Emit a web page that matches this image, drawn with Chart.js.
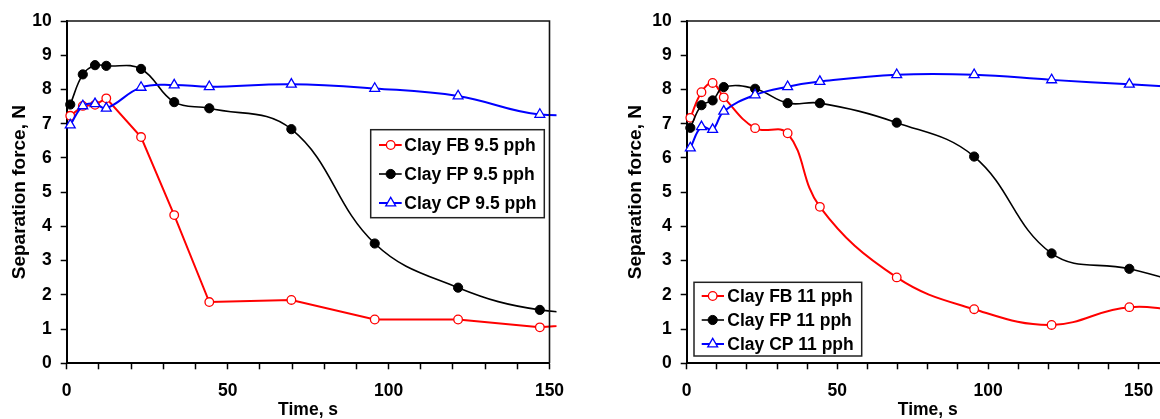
<!DOCTYPE html>
<html><head><meta charset="utf-8">
<script src="https://cdn.jsdelivr.net/npm/chart.js@4.4.0/dist/chart.umd.min.js"></script>
<style>
html,body{margin:0;padding:0;background:#fff;overflow:hidden;width:1160px;height:419px;position:relative;}
#w1{position:absolute;left:0;top:0;width:580px;height:419px;}
#w2{position:absolute;left:620px;top:0;width:580px;height:419px;}
</style></head><body>
<div id="w1"><canvas id="c1"></canvas></div>
<div id="w2"><canvas id="c2"></canvas></div>
<script>
// ---- data ----
const timesA = [1.1, 5, 8.8, 12.3, 23.1, 33.4, 44.3, 69.8, 95.7, 121.6, 147, 172];
const fb95 = [7.23, 7.52, 7.55, 7.74, 6.61, 4.33, 1.79, 1.85, 1.28, 1.28, 1.05, 1.25];
const fp95 = [7.56, 8.44, 8.71, 8.69, 8.60, 7.63, 7.45, 6.84, 3.50, 2.21, 1.56, 1.50];
const cp95 = [6.96, 7.52, 7.58, 7.45, 8.06, 8.13, 8.08, 8.15, 8.03, 7.81, 7.27, 7.35];

const timesB = [1.2, 4.9, 8.6, 12.3, 22.7, 33.5, 44.2, 69.7, 95.4, 121.1, 146.9, 172];
const fb11 = [7.17, 7.92, 8.19, 7.77, 6.87, 6.72, 4.57, 2.51, 1.58, 1.12, 1.64, 1.40];
const fp11 = [6.88, 7.54, 7.68, 8.07, 8.02, 7.60, 7.60, 7.03, 6.04, 3.21, 2.76, 2.15];
const cp11 = [6.29, 6.91, 6.83, 7.36, 7.84, 8.08, 8.23, 8.43, 8.43, 8.28, 8.15, 8.03];

const labelsA = ['Clay FB 9.5 pph', 'Clay FP 9.5 pph', 'Clay CP 9.5 pph'];
const labelsB = ['Clay FB 11 pph', 'Clay FP 11 pph', 'Clay CP 11 pph'];
const xLabelTicks = [0, 50, 100, 150];
const yTitle = 'Separation force, N';
const xTitle = 'Time, s';

// ---- styling ----
const FONT = 'Arial, "Liberation Sans", sans-serif';
const tickFont = {family: FONT, size: 17.5, weight: 'bold'};
const xTitleFont = {family: FONT, size: 17.5, weight: 'bold', lineHeight: 1.0};
const yTitleFont = {family: FONT, size: 19, weight: 'bold', lineHeight: 1.0};

function pts(xs, ys) { return xs.map((x, i) => ({x: x, y: ys[i]})); }

function makeDatasets(xs, fb, fp, cp, labels, fbTension, clip) {
  return [
    {label: labels[0], data: pts(xs, fb), borderColor: '#ff0000', borderWidth: 2,
     pointStyle: 'circle', pointRadius: 4.3, pointBorderWidth: 1.3,
     pointBackgroundColor: '#ffffff', pointBorderColor: '#ff0000', tension: fbTension, order: 3, clip: clip},
    {label: labels[1], data: pts(xs, fp), borderColor: '#000000', borderWidth: 1.6,
     pointStyle: 'circle', pointRadius: 4.6, pointBorderWidth: 1,
     pointBackgroundColor: '#000000', pointBorderColor: '#000000', tension: 0.4, order: 2, clip: clip},
    {label: labels[2], data: pts(xs, cp), borderColor: '#0000ff', borderWidth: 2,
     pointStyle: 'triangle', pointRadius: 5.7, pointBorderWidth: 1.3,
     pointBackgroundColor: '#ffffff', pointBorderColor: '#0000ff', tension: 0.4, order: 1, clip: clip}
  ];
}

const framePlugin = {
  id: 'frameLegend',
  afterDatasetsDraw(chart, args, o) {
    const ctx = chart.ctx, a = chart.chartArea;
    ctx.save();
    ctx.strokeStyle = '#111'; ctx.lineWidth = 1.6;
    ctx.beginPath();
    ctx.moveTo(a.left, a.top); ctx.lineTo(a.right, a.top); ctx.lineTo(a.right, a.bottom);
    ctx.stroke();
    // legend
    const L = o.box;
    ctx.fillStyle = '#fff';
    ctx.fillRect(L.x, L.y, L.w, L.h);
    ctx.strokeStyle = '#222'; ctx.lineWidth = 1.5;
    ctx.strokeRect(L.x, L.y, L.w, L.h);
    ctx.font = 'bold 17.5px ' + FONT;
    ctx.textBaseline = 'middle'; ctx.textAlign = 'left';
    chart.data.datasets.forEach((ds, i) => {
      const y = o.rows[i];
      ctx.strokeStyle = ds.borderColor; ctx.lineWidth = ds.borderWidth;
      ctx.beginPath(); ctx.moveTo(o.sym[0], y); ctx.lineTo(o.sym[2], y); ctx.stroke();
      ctx.fillStyle = ds.pointBackgroundColor; ctx.strokeStyle = ds.pointBorderColor;
      ctx.lineWidth = ds.pointBorderWidth;
      Chart.helpers.drawPoint(ctx, {pointStyle: ds.pointStyle, radius: ds.pointRadius, borderWidth: ds.pointBorderWidth, rotation: 0}, o.sym[1], y);
      ctx.fillStyle = '#000';
      ctx.fillText(ds.label, o.textX, y + 1);
    });
    ctx.restore();
  }
};

function makeOptions(xMax, padRight, yTitlePad, legend) {
  return {
    responsive: true, maintainAspectRatio: false, animation: false, devicePixelRatio: 1,
    layout: {padding: {left: 0, top: 21, right: padRight, bottom: 0}},
    plugins: {legend: {display: false}, tooltip: {enabled: false}, frameLegend: legend},
    elements: {line: {capBezierPoints: false}},
    scales: {
      x: {type: 'linear', min: 0, max: xMax,
        ticks: {stepSize: 10, autoSkip: false, maxRotation: 0, color: '#000', font: tickFont, padding: 11,
          callback: v => xLabelTicks.includes(v) ? String(v) : ''},
        grid: {drawOnChartArea: false, drawTicks: true, tickLength: 6, tickColor: '#000', tickWidth: 1.5},
        border: {display: true, color: '#000', width: 2},
        title: {display: true, text: xTitle, color: '#000', font: xTitleFont, padding: {top: 0, bottom: 0}},
        afterFit: s => { s.height = 55.7; }
      },
      y: {type: 'linear', min: 0, max: 10,
        ticks: {stepSize: 1, color: '#000', font: tickFont, padding: 9},
        grid: {drawOnChartArea: false, drawTicks: true, tickLength: 6, tickColor: '#000', tickWidth: 1.5},
        border: {display: true, color: '#000', width: 2},
        title: {display: true, text: yTitle, color: '#000', font: yTitleFont, padding: {top: yTitlePad, bottom: 0}},
        afterFit: s => { s.width = 66.7; }
      }
    }
  };
}

new Chart(document.getElementById('c1'), {
  type: 'line',
  data: {datasets: makeDatasets(timesA, fb95, fp95, cp95, labelsA, 0, {left: 12, top: 12, right: 7, bottom: 12})},
  options: makeOptions(150, 30.5, 10.5,
    {box: {x: 370.7, y: 129.7, w: 173.6, h: 88}, rows: [145, 174, 203], sym: [379, 390.7, 401.7], textX: 404.3}),
  plugins: [framePlugin]
});

new Chart(document.getElementById('c2'), {
  type: 'line',
  data: {datasets: makeDatasets(timesB, fb11, fp11, cp11, labelsB, 0.4, {left: 12, top: 12, right: 0, bottom: 12})},
  options: makeOptions(160, 31.2, 6.5,
    {box: {x: 74, y: 282.3, w: 167.7, h: 73.7}, rows: [296, 320, 344], sym: [81.7, 92.7, 104], textX: 107.3}),
  plugins: [framePlugin]
});
</script>
</body></html>
